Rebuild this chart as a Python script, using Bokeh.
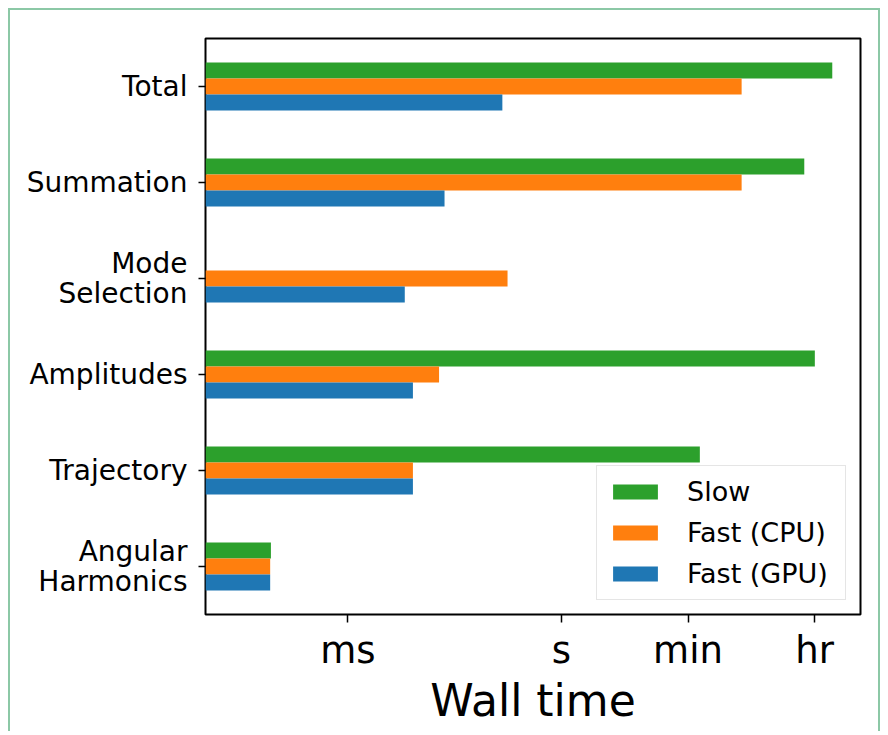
import math

from bokeh.embed import file_html
from bokeh.models import ColumnDataSource, FixedTicker, Legend, LegendItem, Range1d
from bokeh.plotting import figure
from bokeh.resources import INLINE

# Pipeline stages, bottom to top
stages = ["Angular\nHarmonics", "Trajectory", "Amplitudes", "Mode\nSelection", "Summation", "Total"]

# Wall time in seconds for each stage (NaN = not measured)
slow = [8.3e-5, 88.0, 3630.0, float("nan"), 2580.0, 6380.0]
fast_cpu = [8.1e-5, 8.2e-3, 1.91e-2, 0.175, 340.0, 340.0]
fast_gpu = [8.1e-5, 8.2e-3, 8.2e-3, 6.3e-3, 2.28e-2, 0.148]

series_names = ["Slow", "Fast (CPU)", "Fast (GPU)"]
series_colors = ["#2ca02c", "#ff7f0e", "#1f77b4"]

# Time-unit ticks on the log axis
unit_ticks = [1e-3, 1.0, 60.0, 3600.0]
unit_labels = ["ms", "s", "min", "hr"]

X_MIN, X_MAX = 1e-5, 1.59e4
FONT = "DejaVu Sans"

p = figure(
    width=872, height=723,
    x_axis_type="log",
    x_range=Range1d(X_MIN, X_MAX),
    y_range=Range1d(-0.5, len(stages) - 0.5),
    output_backend="svg", toolbar_location=None,
    min_border_left=195, min_border_right=22,
    min_border_top=28, min_border_bottom=119,
)
p.margin = (8, 4, 0, 8)
p.styles = {
    "border-left": "2px solid #8cc8a6",
    "border-top": "2px solid #8cc8a6",
    "border-right": "2px solid #8cc8a6",
}

bar_h = 0.5 / 3
offsets = [bar_h, 0.0, -bar_h]
items = []
for name, color, vals, off in zip(series_names, series_colors, [slow, fast_cpu, fast_gpu], offsets):
    ys, rs = [], []
    for i, v in enumerate(vals):
        if not math.isnan(v):
            ys.append(i + off)
            rs.append(v)
    src = ColumnDataSource(dict(y=ys, right=rs, left=[X_MIN] * len(ys)))
    r = p.hbar(y="y", left="left", right="right", height=bar_h, source=src,
               fill_color=color, line_color=None)
    items.append(LegendItem(label=name, renderers=[r]))

# Axes
p.xgrid.visible = False
p.ygrid.visible = False
p.outline_line_color = "black"
p.outline_line_width = 2

xa = p.xaxis[0]
xa.ticker = FixedTicker(ticks=unit_ticks, minor_ticks=[])
xa.major_label_overrides = {t: l for t, l in zip(unit_ticks, unit_labels)}
xa.axis_label = "Wall time"
xa.axis_line_color = None
xa.minor_tick_line_color = None
xa.major_tick_in = 0
xa.major_tick_out = 8
xa.major_tick_line_width = 1.5
xa.major_tick_line_color = "black"
xa.major_label_text_font = FONT
xa.major_label_text_font_size = "37px"
xa.major_label_text_color = "black"
xa.major_label_standoff = 6
xa.axis_label_text_font = FONT
xa.axis_label_text_font_size = "44px"
xa.axis_label_text_font_style = "normal"
xa.axis_label_text_color = "black"
xa.axis_label_standoff = 0

ya = p.yaxis[0]
ya.ticker = FixedTicker(ticks=list(range(len(stages))), minor_ticks=[])
ya.major_label_overrides = {i: s for i, s in enumerate(stages)}
ya.axis_line_color = None
ya.minor_tick_line_color = None
ya.major_tick_in = 0
ya.major_tick_out = 7
ya.major_tick_line_width = 1.5
ya.major_tick_line_color = "black"
ya.major_label_text_font = FONT
ya.major_label_text_font_size = "28px"
ya.major_label_text_color = "black"
ya.major_label_text_line_height = 0.9
ya.major_label_standoff = 11

legend = Legend(
    items=items,
    location="bottom_right",
    margin=14,
    padding=10,
    glyph_width=56,
    glyph_height=19,
    label_standoff=24,
    label_width=148,
    spacing=10,
    label_text_font=FONT,
    label_text_font_size="27px",
    label_text_color="black",
    border_line_color="#cccccc",
    border_line_width=1,
    background_fill_alpha=0.8,
)
p.add_layout(legend)

open("out.html", "w").write(file_html(p, INLINE))
